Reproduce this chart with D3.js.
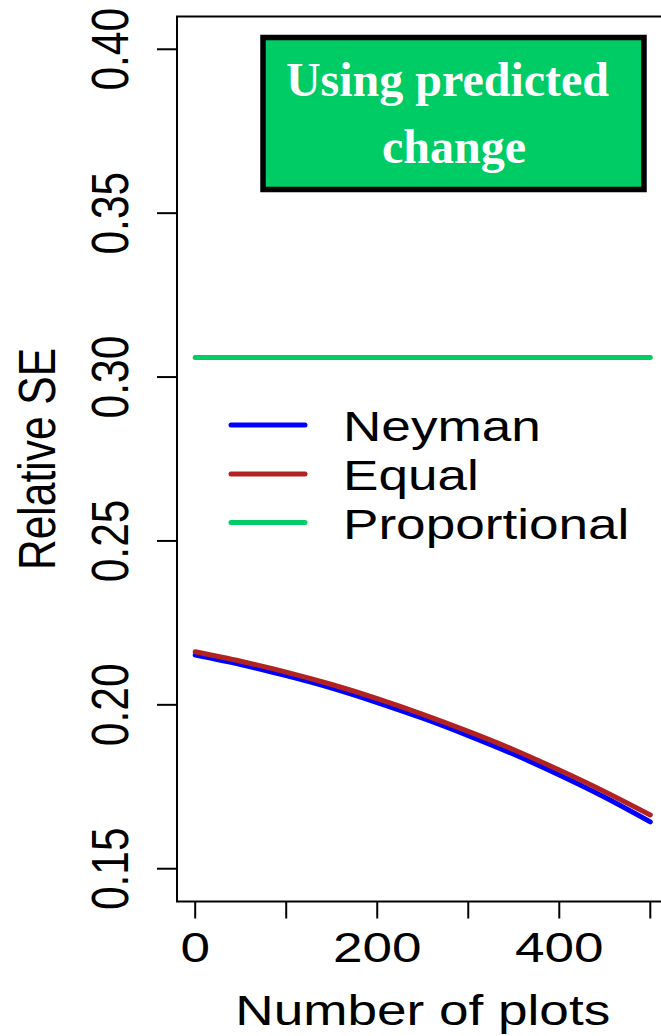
<!DOCTYPE html>
<html>
<head>
<meta charset="utf-8">
<script src="https://cdn.jsdelivr.net/npm/d3@7"></script>
<style>
  html, body { margin: 0; padding: 0; background: #fff; }
  svg { display: block; }
  text { font-family: "Liberation Sans", Arial, Helvetica, sans-serif; }
  text.panel-title { font-family: "Liberation Serif", "Times New Roman", serif; font-weight: bold; }
</style>
</head>
<body>
<script>
// Sample sizes (number of plots) at which each allocation was evaluated
const plots = [0, 50, 100, 150, 200, 250, 300, 350, 400, 450, 500];

// Relative standard error for each allocation scheme
const neyman       = [0.2152, 0.2123, 0.2089, 0.2051, 0.2007, 0.1959, 0.1906, 0.1849, 0.1786, 0.1718, 0.1643];
const equal        = [0.2162, 0.2133, 0.2100, 0.2062, 0.2019, 0.1971, 0.1919, 0.1863, 0.1801, 0.1735, 0.1664];
const proportional = [0.306, 0.306, 0.306, 0.306, 0.306, 0.306, 0.306, 0.306, 0.306, 0.306, 0.306];

const xTicks = [0, 100, 200, 300, 400, 500];
const xTickLabels = ["0", "", "200", "", "400", ""];
const yTicks = [0.15, 0.20, 0.25, 0.30, 0.35, 0.40];
const yTickLabels = ["0.15", "0.20", "0.25", "0.30", "0.35", "0.40"];

const seriesNames = ["Neyman", "Equal", "Proportional"];
const seriesColors = ["#0000FF", "#B22222", "#00CC66"];

const titleLines = ["Using predicted", "change"];

const W = 661, H = 1036;
const FS = 42.5;      // axis / legend font size
const SX = 1.25;      // horizontal stretch of upright text
const SXR = 1.23;     // horizontal stretch of rotated text

const svg = d3.select("body").append("svg")
  .attr("width", W).attr("height", H);

const x = d3.scaleLinear().domain([-20, 520]).range([177, 668.5]);
const y = d3.scaleLinear().domain([0.14, 0.41]).range([901.5, 16.5]);

// plot frame
svg.append("rect")
  .attr("x", x(-20)).attr("y", y(0.41))
  .attr("width", x(520) - x(-20)).attr("height", y(0.14) - y(0.41))
  .attr("fill", "none").attr("stroke", "#000").attr("stroke-width", 2);

// y axis ticks and labels
const gy = svg.append("g");
gy.selectAll("line").data(yTicks).join("line")
  .attr("x1", x(-20) - 20).attr("x2", x(-20))
  .attr("y1", d => y(d)).attr("y2", d => y(d))
  .attr("stroke", "#000").attr("stroke-width", 2);
gy.selectAll("text").data(yTicks).join("text")
  .attr("transform", d => `translate(128,${y(d)}) scale(${SXR},1) rotate(-90)`)
  .attr("text-anchor", "middle")
  .attr("font-size", FS)
  .text((d, i) => yTickLabels[i]);

// x axis ticks and labels
const gx = svg.append("g");
gx.selectAll("line").data(xTicks).join("line")
  .attr("x1", d => x(d)).attr("x2", d => x(d))
  .attr("y1", y(0.14)).attr("y2", y(0.14) + 17)
  .attr("stroke", "#000").attr("stroke-width", 2);
gx.selectAll("text").data(xTicks).join("text")
  .attr("transform", d => `translate(${x(d)},962) scale(${SX},1)`)
  .attr("text-anchor", "middle")
  .attr("font-size", FS)
  .text((d, i) => xTickLabels[i]);

// axis titles
svg.append("text")
  .attr("transform", `translate(${(x(-20) + x(520)) / 2},1025) scale(${SX},1)`)
  .attr("text-anchor", "middle").attr("font-size", FS)
  .text("Number of plots");
svg.append("text")
  .attr("transform", `translate(55,${(y(0.14) + y(0.41)) / 2}) scale(${SXR},1) rotate(-90)`)
  .attr("text-anchor", "middle").attr("font-size", FS)
  .text("Relative SE");

// series lines
const line = d3.line()
  .x((d, i) => x(plots[i]))
  .y(d => y(d))
  .curve(d3.curveNatural);

const series = [proportional, neyman, equal];
const seriesColorOrder = [seriesColors[2], seriesColors[0], seriesColors[1]];
svg.append("g").selectAll("path").data(series).join("path")
  .attr("d", d => line(d))
  .attr("fill", "none")
  .attr("stroke", (d, i) => seriesColorOrder[i])
  .attr("stroke-width", 5)
  .attr("stroke-linecap", "round");

// legend
const legendY = [425, 474, 522.5];
const lg = svg.append("g");
lg.selectAll("line").data(seriesNames).join("line")
  .attr("x1", 231).attr("x2", 305)
  .attr("y1", (d, i) => legendY[i]).attr("y2", (d, i) => legendY[i])
  .attr("stroke", (d, i) => seriesColors[i])
  .attr("stroke-width", 5)
  .attr("stroke-linecap", "round");
lg.selectAll("text").data(seriesNames).join("text")
  .attr("transform", (d, i) => `translate(343,${legendY[i] + 16}) scale(${SX},1)`)
  .attr("font-size", FS)
  .text(d => d);

// title panel
svg.append("rect")
  .attr("x", 263).attr("y", 37.5).attr("width", 381).attr("height", 152)
  .attr("fill", "#00CC66").attr("stroke", "#000").attr("stroke-width", 5.5);
const titleX = [447.5, 454];
const titleY = [96, 163];
svg.append("g").selectAll("text").data(titleLines).join("text")
  .attr("class", "panel-title")
  .attr("x", (d, i) => titleX[i]).attr("y", (d, i) => titleY[i])
  .attr("text-anchor", "middle")
  .attr("font-size", 48)
  .attr("fill", "#fff")
  .text(d => d);
</script>
</body>
</html>
